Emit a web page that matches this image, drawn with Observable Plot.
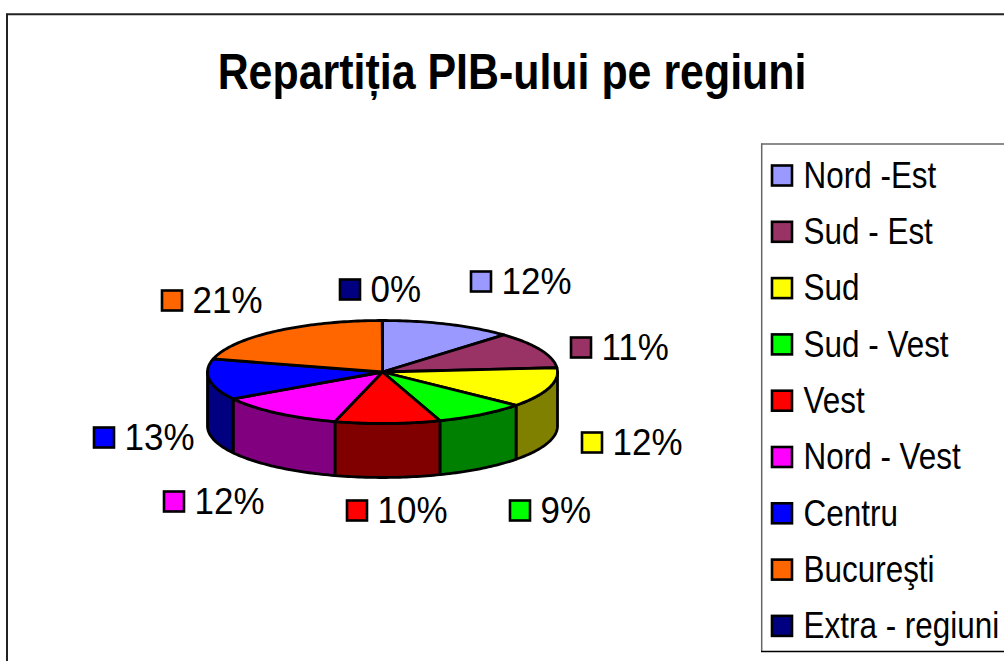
<!DOCTYPE html>
<html lang="ro">
<head>
<meta charset="utf-8">
<style>
html,body{margin:0;padding:0;background:#fff;overflow:hidden}
svg{display:block}
</style>
<script src="https://cdn.jsdelivr.net/npm/d3@7"></script>
<script src="https://cdn.jsdelivr.net/npm/@observablehq/plot@0.6"></script>
</head>
<body>
<div id="chart"></div>
<script>
// Data
const regiuni = ["Nord -Est","Sud - Est","Sud","Sud - Vest","Vest","Nord - Vest","Centru","Bucureşti","Extra - regiuni"];
const valori  = [12.2, 11.49, 12.49, 8.5, 9.7, 11.9, 12.8, 20.9, 0.02];
const culori  = ["#9999ff","#993366","#ffff00","#00ff00","#ff0000","#ff00ff","#0000ff","#ff6600","#000080"];
const umbre   = ["#4d4d80","#4d1a33","#808000","#008000","#800000","#800080","#000080","#803300","#000040"];
const titlu = "Repartiția PIB-ului pe regiuni";

// Label placement, as offsets of the label's swatch from the pie centre
const labelDx = [99, 199, 210, 138, -25, -208, -278, -210, -32];
const labelDy = [-90, -24, 71, 139, 139, 130, 66, -71, -82];

// Layout
const W = 1004, H = 661;
const cx = 382, cy = 371.5, rx = 175, ry = 51.5, depth = 54;
const font = "'Liberation Sans', Arial, sans-serif";

const total = d3.sum(valori);
let acc = 0;
const felii = regiuni.map((name, i) => {
  const a0 = acc / total * 2 * Math.PI; acc += valori[i];
  const a1 = acc / total * 2 * Math.PI;
  return {name, value: valori[i], color: culori[i], shade: umbre[i], a0, a1, i};
});
const px = a => cx + rx * Math.sin(a);
const py = a => cy - ry * Math.cos(a);
const arc = (a0, a1) => {
  const n = Math.max(2, Math.ceil((a1 - a0) / 0.02));
  return d3.range(n + 1).map(k => a0 + (a1 - a0) * k / n);
};

// Top wedges
const topFaces = felii.flatMap(s => {
  const pts = [[cx, cy], ...arc(s.a0, s.a1).map(a => [px(a), py(a)]), [cx, cy]];
  return pts.map(([x, y]) => ({x, y, key: s.name, fill: s.color}));
});
// Rim: only the front half of the disc shows
const rim = felii.flatMap(s => {
  const a0 = Math.max(s.a0, Math.PI / 2), a1 = Math.min(s.a1, 3 * Math.PI / 2);
  if (a1 <= a0) return [];
  const a = arc(a0, a1);
  const pts = [...a.map(t => [px(t), py(t)]),
               ...a.slice().reverse().map(t => [px(t), py(t) + depth]),
               [px(a0), py(a0)]];
  return pts.map(([x, y]) => ({x, y, key: s.name, fill: s.shade}));
});

const etichete = felii.map(s => ({
  ...s, lx: cx + labelDx[s.i], ly: cy + labelDy[s.i], label: Math.round(s.value) + "%"
}));
const legenda = felii.map(s => ({...s, y: 175.5 + s.i * 56.3}));

const swatch = (data, fx, fy) => Plot.rect(data, {
  x1: d => fx(d) - 10, x2: d => fx(d) + 10,
  y1: d => fy(d) - 10, y2: d => fy(d) + 10,
  fill: "color", stroke: "#000", strokeWidth: 2.6
});

const plot = Plot.plot({
  width: W, height: H, margin: 0,
  style: {background: "#fff", fontFamily: font},
  x: {domain: [0, W], range: [0, W], axis: null},
  y: {domain: [0, H], range: [0, H], axis: null},
  color: {type: "identity"},
  marks: [
    // chart frame
    Plot.ruleX([6.5], {y1: 13.8, y2: H, stroke: "#222", strokeWidth: 2}),
    Plot.ruleY([13.8], {x1: 6, x2: W, stroke: "#222", strokeWidth: 2}),
    // legend frame
    Plot.ruleX([761.2], {y1: 143.5, y2: 651, stroke: "#666", strokeWidth: 1.5}),
    Plot.ruleY([143.5], {x1: 761, x2: W, stroke: "#666", strokeWidth: 1.5}),
    Plot.ruleY([651], {x1: 761, x2: W, stroke: "#000", strokeWidth: 1.5}),
    // pie
    Plot.line(rim, {x: "x", y: "y", z: "key", fill: "fill", stroke: "#000", strokeWidth: 2.8, curve: "linear"}),
    Plot.line(topFaces, {x: "x", y: "y", z: "key", fill: "fill", stroke: "#000", strokeWidth: 2.8, curve: "linear"}),
    // title
    Plot.text([titlu], {x: 511.5, y: 72, text: d => d, fontSize: 50, fontWeight: "bold", fill: "#000", className: "t-title"}),
    // data labels
    swatch(etichete, d => d.lx, d => d.ly),
    Plot.text(etichete, {x: d => d.lx + 20, y: "ly", text: "label", textAnchor: "start", fontSize: 37, fill: "#000", className: "t-label"}),
    // legend
    swatch(legenda, () => 782, d => d.y),
    Plot.text(legenda, {x: 803, y: "y", text: "name", textAnchor: "start", fontSize: 37, fill: "#000", className: "t-legend"})
  ]
});
document.getElementById("chart").append(plot);

// The reference's type is horizontally condensed
const squeeze = {".t-title": 0.858, ".t-label": 0.945, ".t-legend": 0.85};
for (const [sel, k] of Object.entries(squeeze)) {
  plot.querySelectorAll(sel + " text, text" + sel).forEach(t => {
    t.setAttribute("textLength", t.getComputedTextLength() * k);
    t.setAttribute("lengthAdjust", "spacingAndGlyphs");
  });
}
</script>
</body>
</html>
